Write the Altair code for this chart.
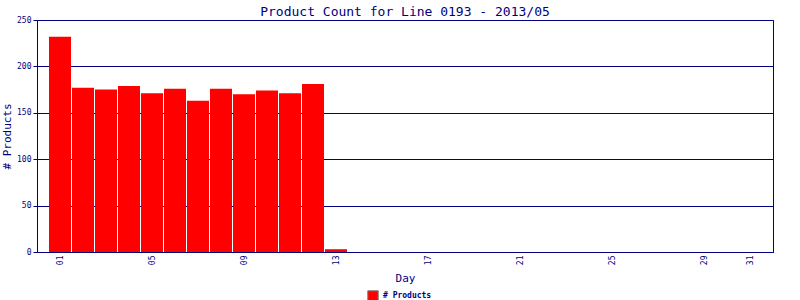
import altair as alt
import pandas as pd

days = list(range(1, 32))
products = [232, 177, 175, 179, 171, 176, 163, 176, 170, 174, 171, 181, 3] + [0] * 18
x_ticks = [1, 5, 9, 13, 17, 21, 25, 29, 31]
y_ticks = [0, 50, 100, 150, 200, 250]

df = pd.DataFrame({"day": days, "count": products, "series": ["# Products"] * len(days)})

NAVY = "#000080"
FONT = "DejaVu Sans Mono"

chart = alt.Chart(df).mark_bar(size=22).encode(
    x=alt.X("day:Q", scale=alt.Scale(domain=[0, 32], nice=False, zero=False, padding=0),
            axis=alt.Axis(values=x_ticks, format="02d", labelAngle=270, title="Day",
                          ticks=False, grid=False, labelPadding=3, titlePadding=8,
                          labelFontSize=8, titleFontSize=11)),
    y=alt.Y("count:Q", scale=alt.Scale(domain=[0, 250], nice=False),
            axis=alt.Axis(values=y_ticks, title="# Products", grid=True, tickSize=4,
                          labelFontSize=8, titleFontSize=11, labelPadding=2, titlePadding=4)),
    color=alt.Color("series:N", scale=alt.Scale(range=["#ff0000"]),
                    legend=alt.Legend(title=None, orient="none", legendX=330, legendY=270,
                                      symbolType="square", symbolSize=110,
                                      symbolStrokeColor="#808080", symbolStrokeWidth=1,
                                      labelFontSize=8, labelColor=NAVY, labelFont=FONT,
                                      labelFontWeight="bold")),
).properties(
    width=736, height=232,
    title=alt.Title("Product Count for Line 0193 - 2013/05", fontSize=13, color=NAVY,
                    font=FONT, fontWeight="normal", offset=5, anchor="middle", frame="group",
                    dy=8),
    autosize=alt.AutoSizeParams(type="none"),
    padding={"left": 37, "top": 20, "right": 27, "bottom": 48},
    background="white",
).configure_axis(
    domainColor=NAVY, tickColor=NAVY, gridColor=NAVY, gridOpacity=1, gridWidth=1,
    labelColor=NAVY, titleColor=NAVY, labelFont=FONT, titleFont=FONT,
    titleFontWeight="normal", domainWidth=1,
).configure_view(stroke=NAVY, strokeWidth=1)

chart.save("out.html", embed_options={"renderer": "svg", "actions": False})
